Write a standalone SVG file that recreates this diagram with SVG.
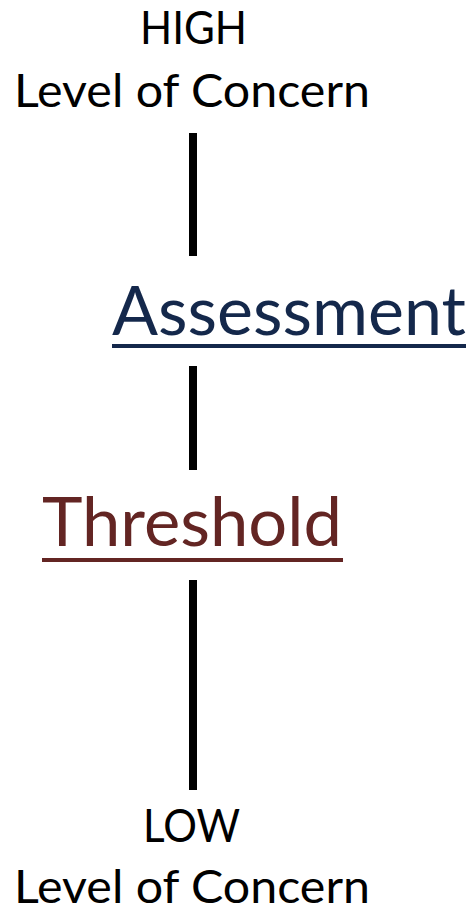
<svg xmlns="http://www.w3.org/2000/svg" width="472" height="916" viewBox="0 0 472 916">
<style>
.lbl{font-family:"Lato","Liberation Sans",sans-serif;font-size:46px;fill:#000}
.big{font-family:"Lato","Liberation Sans",sans-serif;font-size:67px}
.conn line{stroke:#000;stroke-width:8}
</style>
<rect width="472" height="916" fill="#fff"/>
<g class="conn">
<line x1="193" y1="133" x2="193" y2="256"/>
<line x1="193" y1="366" x2="193" y2="470"/>
<line x1="193" y1="580" x2="193" y2="790"/>
</g>
<g id="high">
<text class="lbl" x="140" y="44" textLength="107" lengthAdjust="spacingAndGlyphs">HIGH</text>
<text class="lbl" x="14" y="107" textLength="356" lengthAdjust="spacingAndGlyphs">Level of Concern</text>
</g>
<g id="assessment">
<text class="big" x="112" y="335" fill="#14284b" textLength="354" lengthAdjust="spacingAndGlyphs">Assessment</text>
<rect x="112" y="344" width="354" height="4" fill="#14284b"/>
</g>
<g id="threshold">
<text class="big" x="42" y="546" fill="#632523" textLength="300" lengthAdjust="spacingAndGlyphs">Threshold</text>
<rect x="42" y="558" width="301" height="4" fill="#632523"/>
</g>
<g id="low">
<text class="lbl" x="143" y="842" textLength="97" lengthAdjust="spacingAndGlyphs">LOW</text>
<text class="lbl" x="14" y="903" textLength="356" lengthAdjust="spacingAndGlyphs">Level of Concern</text>
</g>
</svg>
